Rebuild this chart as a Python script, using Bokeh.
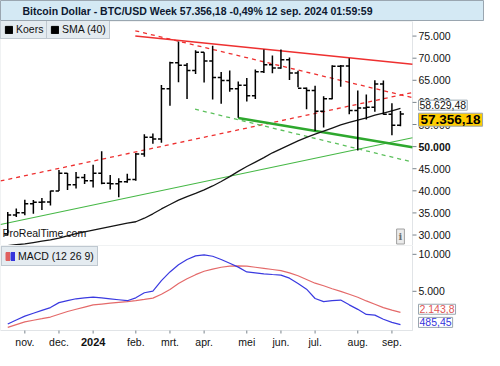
from bokeh.plotting import figure
from bokeh.layouts import column
from bokeh.models import Range1d, Label, Legend, LegendItem, ColumnDataSource, BoxAnnotation, Span
from bokeh.core.properties import value
from bokeh.embed import file_html
from bokeh.resources import INLINE

# ---------------- data (weekly bars, week 0 = week of 1 Jan 2024) ----------------
weeks = list(range(-10, 37))
opens = [29990, 34520, 35050, 37060, 37390, 37450, 39970, 43990, 41370, 43010,
         42280, 43950, 41730, 41580, 42030, 42580, 48300, 52140, 51730, 63110,
         68960, 68390, 67210, 71330, 69360, 65660, 64940, 63110, 63890, 61480,
         66940, 68540, 67760, 69650, 66630, 63180, 62680, 57990, 60800, 68170,
         68250, 58160, 58710, 58920, 64180, 57300, 54850]
highs = [35200, 35980, 37980, 37920, 38400, 39990, 44700, 44040, 44280, 43800,
         45880, 48970, 43570, 42840, 43880, 48540, 52820, 52950, 63950, 69170,
         73780, 68920, 71770, 71340, 72800, 66870, 67230, 64730, 65500, 67420,
         71950, 70610, 71960, 70180, 67170, 63370, 63780, 61380, 68410, 68470,
         70000, 62700, 61800, 65000, 64950, 59800, 58040]
lows = [29880, 34100, 34500, 34800, 35650, 36700, 39970, 40200, 40550, 41520,
        40750, 41500, 40280, 38550, 41820, 42280, 47700, 50620, 50900, 59230,
        64550, 60780, 66420, 64500, 60660, 59680, 62400, 56550, 60180, 60780,
        66630, 66610, 67610, 65050, 63420, 58470, 53550, 54300, 60700, 63520,
        57300, 49100, 56150, 57900, 57220, 52550, 54600]
closes = [34520, 35050, 37060, 37390, 37450, 39970, 43990, 41370, 43010, 42280,
          43950, 41730, 41580, 42030, 42580, 48300, 52140, 51730, 63110, 68960,
          68390, 67210, 71330, 69360, 65660, 64940, 63110, 63890, 61480, 66940,
          68540, 67760, 69650, 66630, 63180, 62680, 57990, 60800, 68170, 68250,
          58160, 58710, 58920, 64180, 57300, 54850, 57356.18]
sma40 = [27600, 27800, 28000, 28300, 28600, 28900, 29300, 29800, 30300, 30700,
         31100, 31500, 31900, 32300, 32700, 33000, 33800, 34800, 35900, 36900,
         37900, 38700, 39400, 40200, 41100, 42100, 43200, 44400, 45500, 46500,
         47500, 48600, 49500, 50400, 51300, 52100, 52800, 53500, 54200, 54900,
         55500, 56000, 56500, 57100, 57600, 58100, 58629.48]
macd = [570, 1130, 1650, 2040, 2430, 2800, 3470, 3730, 3990, 4120,
        4210, 4120, 3990, 3860, 3730, 4120, 4810, 5030, 6450, 7620,
        8600, 9310, 9790, 9920, 9740, 9310, 8790, 8270, 7620, 7490,
        7360, 7270, 7190, 6780, 6060, 5290, 4030, 3600, 3730, 3820,
        3170, 2560, 1870, 1780, 1220, 800, 485.45]
signal = [130, 500, 870, 1090, 1300, 1520, 1900, 2270, 2570, 2870,
          3170, 3280, 3390, 3500, 3610, 3750, 3900, 4080, 4600, 5250,
          6050, 6700, 7250, 7710, 8000, 8250, 8400, 8450, 8400, 8250,
          8100, 7950, 7800, 7500, 7100, 6600, 6100, 5750, 5350, 5000,
          4600, 4200, 3700, 3250, 2800, 2450, 2143.8]

month_ticks = [-8, -4, 0, 5, 9, 13, 18, 22, 26, 31, 35]
month_labels = ["nov.", "dec.", "2024", "feb.", "mrt.", "apr.", "mei", "jun.", "jul.", "aug.", "sep."]
year_label = "2024"
price_ticks = [30000, 35000, 40000, 45000, 50000, 55000, 60000, 65000, 70000, 75000]
bold_price_tick = 50000
macd_ticks = [5000, 10000]

# drawn trend lines: (weeks, prices) of their two ends
red_solid_w, red_solid_p = [4.94, 37.41], [75000, 68640]
red_dash_hi_w, red_dash_hi_p = [4.94, 37.41], [76200, 61070]
red_dash_lo_w, red_dash_lo_p = [-10.85, 37.41], [42230, 62240]
green_thin_w, green_thin_p = [-10.85, 37.41], [32370, 51990]
green_thick_w, green_thick_p = [17.0, 37.41], [56460, 49840]
green_dash_w, green_dash_p = [11.94, 37.41], [58460, 46500]

last_close = 57356.18
last_sma = 58629.48
last_close_txt = "57.356,18"
last_sma_txt = "58.629,48"
last_signal_txt = "2.143,8"
last_macd_txt = "485,45"

# ---------------- layout / styling ----------------
FONT = "Liberation Sans"
FS = "10.5px"
GRAY = "#9aa6b0"
TICKC = "#7a848c"
W = 484          # total width
PW = 412         # width of the chart panels (right of it: price scale)
X0, X1 = -10.85, 37.41                 # visible weeks in the panels
XEND = X0 + (X1 - X0) * W / PW         # frame runs on under the price scale
P_LO, P_HI = 27630, 78300              # price panel range
M_LO, M_HI = -299, 11195               # MACD panel range
MH, MPH = 105, 85                      # MACD figure height, MACD panel height
M_BOTTOM = M_LO - (M_HI - M_LO) * (MH - MPH) / MPH


def fmt_thousands(v):
    return f"{int(v):,}".replace(",", ".")


nan = float("nan")
xr = Range1d(X0, XEND)

# ---------------- title bar ----------------
t = figure(width=W, height=21, x_range=Range1d(0, 1), y_range=Range1d(0, 1),
           output_backend="svg", toolbar_location=None,
           x_axis_location=None, y_axis_location=None, min_border=0)
t.grid.visible = False
t.background_fill_color = "#d4e9f4"
t.border_fill_color = "#d4e9f4"
t.outline_line_color = GRAY
t.add_layout(Label(x=22, y=10.5, x_units="screen", y_units="screen",
                   text="Bitcoin Dollar - BTC/USD Week 57.356,18 -0,49% 12 sep. 2024 01:59:59",
                   text_font=FONT, text_font_size="10.5px", text_font_style="bold",
                   text_baseline="middle", text_color="#0d1830"))

# ---------------- price panel ----------------
p = figure(width=W, height=224, x_range=xr, y_range=Range1d(P_LO, P_HI),
           output_backend="svg", toolbar_location=None,
           x_axis_location=None, y_axis_location=None, min_border=0)
p.grid.visible = False
p.outline_line_color = None
p.add_layout(BoxAnnotation(left=X0, right=X1, fill_alpha=0, line_color=GRAY, line_width=1))

# price scale (drawn on the right of the panel)
p.ray(x=[X1] * len(price_ticks), y=price_ticks, length=4, length_units="screen",
      angle=0, line_color=TICKC, line_width=1)
norm_ticks = [v for v in price_ticks if v != bold_price_tick]
p.text(x=[X1] * len(norm_ticks), y=norm_ticks, text=[fmt_thousands(v) for v in norm_ticks],
       x_offset=6, text_font=value(FONT), text_font_size=FS, text_baseline="middle",
       text_color="#111111")
p.text(x=[X1], y=[bold_price_tick], text=[fmt_thousands(bold_price_tick)],
       x_offset=6, text_font=value(FONT), text_font_size=FS, text_font_style="bold",
       text_baseline="middle", text_color="#111111")

src = ColumnDataSource(dict(w=weeks, o=opens, h=highs, l=lows, c=closes,
                            wl=[w - 0.4 for w in weeks], wr=[w + 0.4 for w in weeks]))

# trend lines
p.line(red_dash_hi_w, red_dash_hi_p, line_color="#ee3030", line_width=1.3, line_dash="4 4")
p.line(red_dash_lo_w, red_dash_lo_p, line_color="#ee3030", line_width=1.3, line_dash="4 4")
p.line(red_solid_w, red_solid_p, line_color="#ee3030", line_width=1.5)
p.line(green_thin_w, green_thin_p, line_color="#46b846", line_width=1.1)
p.line(green_dash_w, green_dash_p, line_color="#5cc05c", line_width=1.3, line_dash="4 4")
p.line(green_thick_w, green_thick_p, line_color="#2ea82e", line_width=2.6)

# SMA
p.line(weeks, sma40, line_color="#151515", line_width=1.3)

# OHLC bars
p.segment(x0="w", y0="l", x1="w", y1="h", source=src, line_color="black", line_width=1.5)
p.segment(x0="wl", y0="o", x1="w", y1="o", source=src, line_color="black", line_width=1.5)
p.segment(x0="w", y0="c", x1="wr", y1="c", source=src, line_color="black", line_width=1.5)

# legend boxes
sq = p.quad(left=[nan], right=[nan], top=[nan], bottom=[nan], fill_color="black", line_color="black")
common = dict(orientation="horizontal", padding=3, margin=0, spacing=0,
              glyph_width=9, glyph_height=9, label_standoff=3, label_height=9, label_width=0,
              label_text_font=FONT, label_text_font_size=FS, label_text_color="#111111",
              background_fill_color="#e4ebf0", background_fill_alpha=1,
              border_line_color=GRAY, border_line_width=1)
p.add_layout(Legend(items=[LegendItem(label=value("Koers"), renderers=[sq])],
                    location=(0, 206), **common))
p.add_layout(Legend(items=[LegendItem(label=value("SMA (40)"), renderers=[sq])],
                    location=(46, 206), **common))

# value markers on the price scale
p.add_layout(Label(x=X1, y=last_sma, x_offset=6, y_offset=3.3, text=last_sma_txt,
                   text_font=FONT, text_font_size=FS, text_baseline="middle",
                   text_color="#111111", background_fill_color="white",
                   border_line_color=GRAY, padding=1))
p.add_layout(Label(x=X1, y=last_close, x_offset=6, y_offset=-5.6, text=last_close_txt,
                   text_font=FONT, text_font_size="13.5px", text_font_style="bold",
                   text_baseline="middle", text_color="#000000",
                   background_fill_color="#ffcc00", border_line_color=GRAY, padding=2))

p.add_layout(Label(x=2, y=13, x_units="screen", y_units="screen", text="ProRealTime.com",
                   text_font=FONT, text_font_size="10.5px", text_baseline="middle",
                   text_color="#111111"))
p.add_layout(Label(x=400, y=9, x_units="screen", y_units="screen", text="i",
                   text_font="DejaVu Serif", text_font_size="10px", text_font_style="bold",
                   text_align="center", text_baseline="middle", text_color="#707070",
                   background_fill_color="#ebebeb", border_line_color="#a0a0a0", padding=2))

# ---------------- MACD panel ----------------
m = figure(width=W, height=MH, x_range=xr, y_range=Range1d(M_BOTTOM, M_HI),
           output_backend="svg", toolbar_location=None,
           x_axis_location=None, y_axis_location=None, min_border=0)
m.grid.visible = False
m.outline_line_color = None
m.add_layout(BoxAnnotation(left=X0, right=X1, bottom=M_LO, fill_alpha=0,
                           line_color=GRAY, line_width=1))

# MACD scale
m.ray(x=[X1] * len(macd_ticks), y=macd_ticks, length=4, length_units="screen",
      angle=0, line_color=TICKC, line_width=1)
m.text(x=[X1] * len(macd_ticks), y=macd_ticks, text=[fmt_thousands(v) for v in macd_ticks],
       x_offset=6, text_font=value(FONT), text_font_size=FS, text_baseline="middle",
       text_color="#111111")

# time scale under the MACD panel
m.ray(x=month_ticks, y=[M_LO] * len(month_ticks), length=3, length_units="screen",
      angle=-90, angle_units="deg", line_color=TICKC, line_width=1)
norm_m = [(tk, lab) for tk, lab in zip(month_ticks, month_labels) if lab != year_label]
m.text(x=[tk for tk, _ in norm_m], y=[M_LO] * len(norm_m), text=[lab for _, lab in norm_m],
       y_offset=11, text_font=value(FONT), text_font_size=FS, text_align="center",
       text_baseline="middle", text_color="#111111")
m.text(x=[month_ticks[month_labels.index(year_label)]], y=[M_LO], text=[year_label],
       y_offset=11, text_font=value(FONT), text_font_size="11px", text_font_style="bold",
       text_align="center", text_baseline="middle", text_color="#111111")

m.line(weeks, signal, line_color="#e46a6a", line_width=1.2)
m.line(weeks, macd, line_color="#3a3ae0", line_width=1.2)

rq = m.quad(left=[nan], right=[nan], top=[nan], bottom=[nan], fill_color="#e06060", line_color="#e06060")
bq = m.quad(left=[nan], right=[nan], top=[nan], bottom=[nan], fill_color="#3434dc", line_color="#3434dc")
m.add_layout(Legend(items=[LegendItem(label=value(""), renderers=[rq]),
                           LegendItem(label=value("\u00a0MACD (12 26 9)"), renderers=[bq])],
                    location="top_left", orientation="horizontal", padding=3, margin=1,
                    spacing=0, glyph_width=5, glyph_height=10, label_standoff=0,
                    label_height=9, label_width=0, label_text_font=FONT,
                    label_text_font_size=FS, label_text_color="#111111",
                    background_fill_color="#e4ebf0", background_fill_alpha=1,
                    border_line_color=GRAY, border_line_width=1))

m.add_layout(Label(x=X1, y=signal[-1], x_offset=6, y_offset=3.2, text=last_signal_txt,
                   text_font=FONT, text_font_size=FS, text_baseline="middle",
                   text_color="#e05555", background_fill_color="white",
                   border_line_color=GRAY, padding=1))
m.add_layout(Label(x=X1, y=macd[-1], x_offset=6, y_offset=2.3, text=last_macd_txt,
                   text_font=FONT, text_font_size=FS, text_baseline="middle",
                   text_color="#3434dc", background_fill_color="white",
                   border_line_color=GRAY, padding=1))

layout = column(t, p, m, spacing=0)
open("out.html", "w").write(file_html(layout, INLINE))
